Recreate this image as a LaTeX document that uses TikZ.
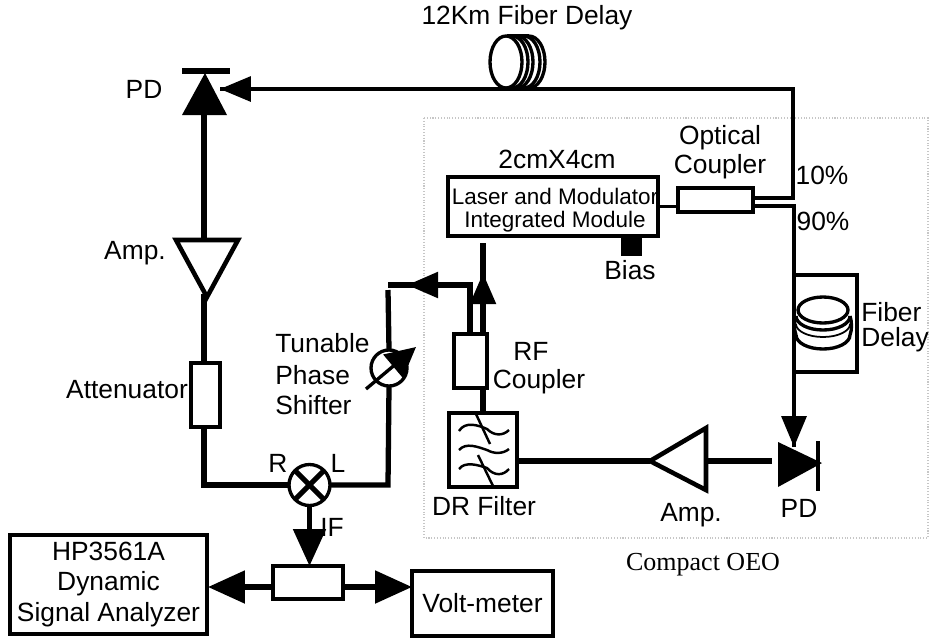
\documentclass[tikz,border=0pt]{standalone}
\usepackage{fontspec}
\setmainfont{Liberation Sans}
\newfontfamily\captionfont{Liberation Serif}
\usetikzlibrary{arrows.meta}

\tikzset{
	label15/.style = {inner sep = 0, font = \fontsize{15}{17}\selectfont},
	block/.style = {draw, line width = 1.9pt, inner sep = 0, outer sep = 0},
	heavy/.style = {line width = 3pt},
	medium/.style = {line width = 1.9pt},
	headA/.style = {-{Triangle[length = 0.62cm, width = 0.5cm]}},
	headB/.style = {-{Triangle[length = 0.74cm, width = 0.64cm]}}
}

\begin{document}
\begin{tikzpicture}[x = 0.02cm, y = -0.02cm, line join = miter]
	\def\xMAX{932};
	\def\yMAX{640};
	\useasboundingbox (0,0) rectangle (\xMAX,\yMAX);

	\begin{scope}
		\draw [gray!45, densely dotted, line width = 0.6pt] (424,118) rectangle (928,538);
	\end{scope}

	\begin{scope}
		\node [block, minimum width = 4.2cm, minimum height = 1.18cm] (module) at (553,206.5) {};
		\node [block, minimum width = 1.5cm, minimum height = 0.48cm] (optcoupler) at (715.5,200) {};
		\node [block, fill, minimum width = 0.34cm, minimum height = 0.34cm] (bias) at (631.5,246) {};
		\node [block, minimum width = 1.26cm, minimum height = 1.94cm] (delaybox) at (825.5,323.5) {};
		\node [block, minimum width = 0.66cm, minimum height = 1.08cm] (rfcoupler) at (470.5,361) {};
		\node [block, minimum width = 1.36cm, minimum height = 1.48cm] (drfilter) at (483,450) {};
		\node [block, minimum width = 0.58cm, minimum height = 1.28cm] (atten) at (205.5,395) {};
		\node [block, minimum width = 1.4cm, minimum height = 0.66cm] (splitter) at (308,582.5) {};
		\node [block, minimum width = 3.94cm, minimum height = 1.98cm, align = center, font = \fontsize{15}{17.2}\selectfont] (analyzer) at (108.5,584.5) {HP3561A\\Dynamic\\Signal Analyzer};
		\node [block, minimum width = 2.82cm, minimum height = 1.3cm, font = \fontsize{15}{17}\selectfont] (voltmeter) at (482.5,603.5) {Volt-meter};
		\node [block, circle, minimum size = 0.82cm] (mixer) at (309.5,485) {};
		\node [block, circle, minimum size = 0.72cm] (shifter) at (389,368) {};
	\end{scope}

	\begin{scope}
		\coordinate (pdoneTip) at (205,73);
		\coordinate (pdoneL) at (182,115);
		\coordinate (pdoneR) at (227,115);
		\coordinate (pdoneBarL) at (182,71);
		\coordinate (pdoneBarR) at (230,71);
		\coordinate (pdoneIn) at (204,115);
		\coordinate (pdoneArrow) at (220,89);

		\coordinate (ampOneL) at (176,240);
		\coordinate (ampOneR) at (238,240);
		\coordinate (ampOneTip) at (207,297);
		\coordinate (ampOneIn) at (204,240);
		\coordinate (ampOneOut) at (204,294);

		\coordinate (ampTwoTip) at (650,461);
		\coordinate (ampTwoT) at (706,428);
		\coordinate (ampTwoB) at (706,490);
		\coordinate (ampTwoIn) at (706,461);

		\coordinate (pdtwoT) at (778,442);
		\coordinate (pdtwoB) at (778,487);
		\coordinate (pdtwoTip) at (822,463);
		\coordinate (pdtwoBarT) at (818,441);
		\coordinate (pdtwoBarB) at (818,491);
		\coordinate (pdtwoOut) at (772,461);
		\coordinate (pdtwoArrow) at (794,447);

		\coordinate (coupTen) at (753,198);
		\coordinate (coupNinety) at (753,206);
		\coordinate (cornerTen) at (793,198);
		\coordinate (cornerTop) at (793,89);
		\coordinate (cornerNinety) at (794,206);

		\coordinate (shifterIn) at (388,485);
		\coordinate (shifterTop) at (388,290);
		\coordinate (returnEnd) at (388,285);
		\coordinate (returnTip) at (407,285);
		\coordinate (returnCorner) at (470,285);
		\coordinate (rfLeft) at (470,334);
		\coordinate (rfRight) at (483,334);
		\coordinate (rfHead) at (483,273);
		\coordinate (rfNeck) at (483,285);
		\coordinate (rfEnd) at (483,243);
		\coordinate (rfBottom) at (483,388);
		\coordinate (tuneTail) at (366,389);
		\coordinate (tuneTip) at (416,347);
		\coordinate (attenCorner) at (204,485);
		\coordinate (attenOut) at (204,427);
		\coordinate (attenIn) at (204,363);
		\coordinate (filterOut) at (517,461);
		\coordinate (splitLeft) at (273,587);
		\coordinate (splitRight) at (343,587);
		\coordinate (analyzerIn) at (208,587);
		\coordinate (voltIn) at (412,587);
	\end{scope}

	\begin{scope}[heavy]
		\draw (pdoneIn) -- (ampOneIn);
		\draw (ampOneOut) -- (attenIn);
		\draw (attenOut) -- (attenCorner) -- (mixer.west);
		\draw (mixer.east) -- (shifterIn) -- (shifter.south);
		\draw (shifter.north) -- (shifterTop);
		\draw (rfLeft) -- (returnCorner) -- (returnEnd);
		\draw (rfNeck) -- (rfEnd);
		\draw (rfBottom) -- (drfilter.north -| rfBottom);
		\draw (filterOut) -- (ampTwoTip);
		\draw (ampTwoIn) -- (pdtwoOut);
		\draw (mixer.45) -- (mixer.225);
		\draw (mixer.135) -- (mixer.315);
	\end{scope}

	\begin{scope}[medium]
		\draw (module.east) -- (module.east -| optcoupler.west);
		\draw (coupTen) -- (cornerTen) -- (cornerTop) -- (pdoneArrow);
		\draw (coupNinety) -- (cornerNinety) -- (pdtwoArrow);
	\end{scope}

	\begin{scope}[line width = 2.6pt]
		\draw (ampOneL) -- (ampOneR) -- (ampOneTip) -- cycle;
		\draw (ampTwoTip) -- (ampTwoT) -- (ampTwoB) -- cycle;
	\end{scope}

	\begin{scope}
		\fill (pdoneTip) -- (pdoneL) -- (pdoneR) -- cycle;
		\draw [line width = 3.2pt] (pdoneBarL) -- (pdoneBarR);
		\fill (pdtwoT) -- (pdtwoB) -- (pdtwoTip) -- cycle;
		\draw [line width = 2.8pt] (pdtwoBarT) -- (pdtwoBarB);
	\end{scope}

	\begin{scope}[headA]
		\draw [medium] (cornerTop) -- (pdoneArrow);
		\draw [medium] (cornerNinety) -- (pdtwoArrow);
		\draw [heavy] (returnCorner) -- (returnTip);
		\draw [heavy] (rfRight) -- (rfHead);
	\end{scope}

	\begin{scope}[headB]
		\draw [heavy] (mixer.south) -- (splitter.north -| mixer.south);
		\draw [heavy] (splitLeft) -- (analyzerIn);
		\draw [heavy] (splitRight) -- (voltIn);
	\end{scope}

	\begin{scope}
		\draw [medium, -{Triangle[length = 0.6cm, width = 0.6cm]}] (tuneTail) -- (tuneTip);
	\end{scope}

	\begin{scope}[medium]
		\foreach \cx in {512,517,524,529} {
			\draw (\cx,36) arc [start angle = -90, end angle = 90, x radius = 16, y radius = 26];
		}
		\draw (507,36) -- (529,36);
		\draw [fill = white] (506,62) ellipse [x radius = 16, y radius = 26];
	\end{scope}

	\begin{scope}[medium]
		\draw (850,316) arc [start angle = 0, end angle = 180, x radius = 27, y radius = 14];
		\draw [line width = 1pt] (850,324) arc [start angle = 0, end angle = 180, x radius = 27, y radius = 13];
		\draw (850,335) arc [start angle = 0, end angle = 180, x radius = 27, y radius = 14];
		\draw (850,316) .. controls (852,322) and (852,330) .. (850,335);
		\draw (796,316) .. controls (794,322) and (794,330) .. (796,335);
		\draw [fill = white] (823,310) ellipse [x radius = 25, y radius = 13];
	\end{scope}

	\begin{scope}[line width = 1.4pt]
		\draw (459,431) .. controls (465,421) and (478,425) .. (487,429) .. controls (494,436) and (503,436) .. (509,430);
		\draw (459,450) .. controls (466,442) and (478,447) .. (487,450) .. controls (494,454) and (503,454) .. (509,449);
		\draw (459,469) .. controls (465,461) and (478,465) .. (487,468) .. controls (494,476) and (503,476) .. (509,469);
		\draw (476,414) -- (490,444);
		\draw (478,455) -- (493,486);
	\end{scope}

	\begin{scope}
		\node [label15] (delaytitle) at (527,18) {12Km Fiber Delay};
		\node [label15] (pdone) at (144,89) {PD};
		\node [label15] (ampone) at (135,253) {Amp.};
		\node [label15] (attenlabel) at (127,390) {Attenuator};
		\node [label15] (portr) at (278,463) {R};
		\node [label15] (portl) at (338,463) {L};
		\node [label15] (portif) at (332,527) {IF};
		\node [label15, anchor = west] (tunelabel) at (275,343) {Tunable};
		\node [label15, anchor = west] (phaselabel) at (275,375) {Phase};
		\node [label15, anchor = west] (shiftlabel) at (275,405) {Shifter};
		\node [label15] (sizelabel) at (557,159) {2cmX4cm};
		\node [label15] (opticlabel) at (720,138) {Optical};
		\node [label15] (couplabel) at (720,167) {Coupler};
		\node [label15] (tenlabel) at (822,175) {10\%};
		\node [label15] (ninetylabel) at (823,221) {90\%};
		\node [label15] (biaslabel) at (630,270) {Bias};
		\node [label15] (rflabel) at (531,351) {RF};
		\node [label15] (rfcouplabel) at (539,382) {Coupler};
		\node [label15, anchor = west] (fiberlabel) at (861,312) {Fiber};
		\node [label15, anchor = west] (delaylabel) at (861,340) {Delay};
		\node [label15] (drlabel) at (484,506) {DR Filter};
		\node [label15] (amptwo) at (691,515) {Amp.};
		\node [label15] (pdtwo) at (799,508) {PD};
		\node [inner sep = 0, font = \fontsize{12.8}{14}\selectfont] (laserlabel) at (555,196) {Laser and Modulator};
		\node [inner sep = 0, font = \fontsize{12.8}{14}\selectfont] (intlabel) at (555,222) {Integrated Module};
		\node [inner sep = 0, font = \captionfont\fontsize{14.8}{17}\selectfont] (oeolabel) at (703,565) {Compact OEO};
	\end{scope}
\end{tikzpicture}
\end{document}
